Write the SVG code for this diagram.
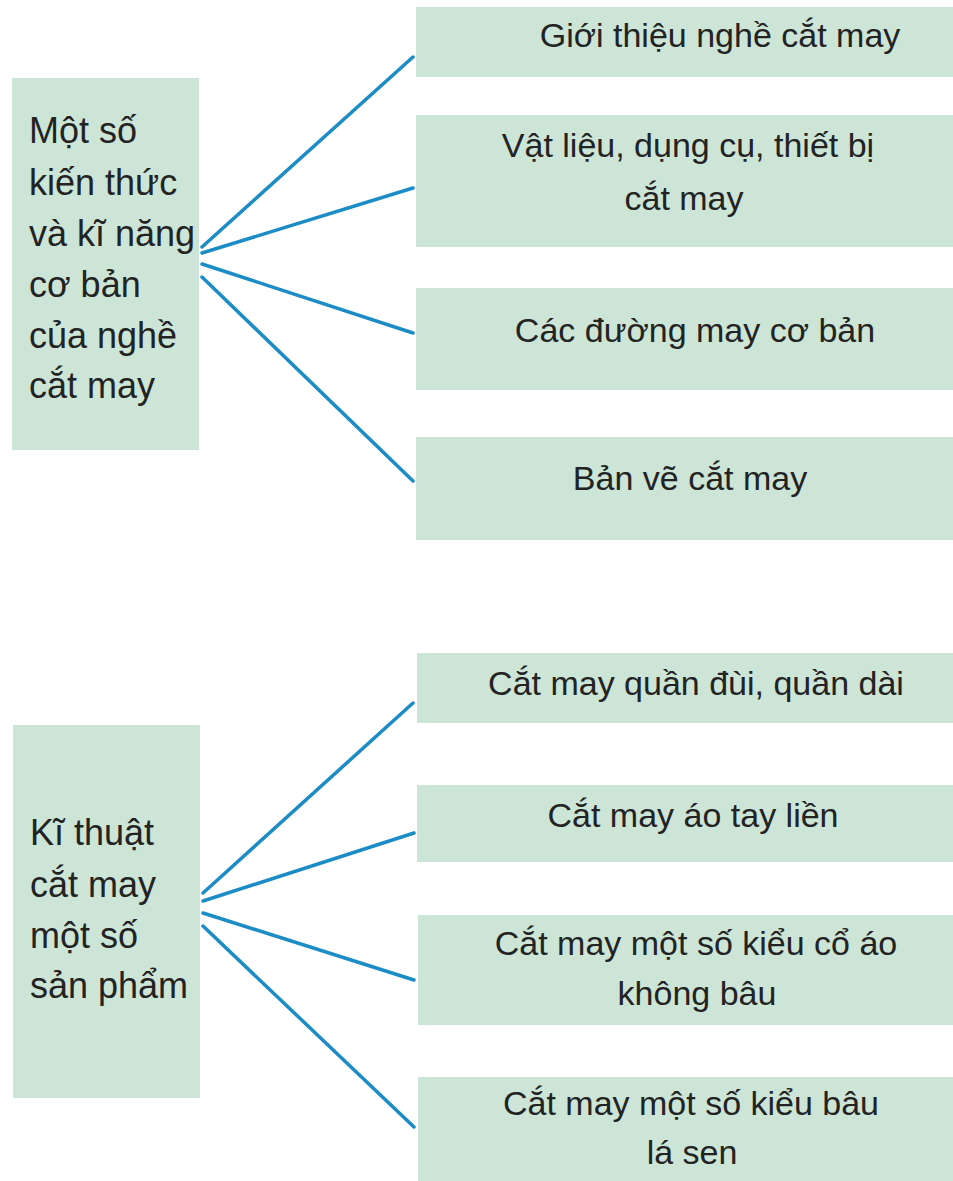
<svg xmlns="http://www.w3.org/2000/svg" width="953" height="1181" viewBox="0 0 953 1181">
<style>
.box{fill:#cce5d6}
.t{font-family:"Liberation Sans",Arial,sans-serif;fill:#232323}
.l{font-size:36px}
.r{font-size:34px;text-anchor:middle}
.c{stroke:#1c8cc6;stroke-width:3.5;fill:none;stroke-linecap:round}
</style>
<rect width="953" height="1181" fill="#ffffff"/>
<g id="connectors">
<line class="c" x1="202" y1="247" x2="413" y2="57"/>
<line class="c" x1="202" y1="253" x2="413" y2="188"/>
<line class="c" x1="202" y1="264" x2="413" y2="333"/>
<line class="c" x1="202" y1="277" x2="413" y2="481"/>
<line class="c" x1="203" y1="893" x2="413" y2="703"/>
<line class="c" x1="203" y1="901" x2="414" y2="833"/>
<line class="c" x1="203" y1="913" x2="414" y2="980"/>
<line class="c" x1="203" y1="926" x2="414" y2="1127"/>
</g>
<g id="n_main1">
<rect class="box" x="12" y="78" width="187" height="372"/>
<text class="t l" x="29"><tspan x="29" y="143">Một số</tspan><tspan x="29" y="195">kiến thức</tspan><tspan x="29" y="246">và kĩ năng</tspan><tspan x="29" y="297">cơ bản</tspan><tspan x="29" y="348">của nghề</tspan><tspan x="29" y="398">cắt may</tspan></text>
</g>
<g id="n_a1">
<rect class="box" x="416" y="7" width="537" height="70"/>
<text class="t r" x="720" y="47">Giới thiệu nghề cắt may</text>
</g>
<g id="n_a2">
<rect class="box" x="416" y="115" width="537" height="132"/>
<text class="t r"><tspan x="688" y="157">Vật liệu, dụng cụ, thiết bị</tspan><tspan x="684" y="210">cắt may</tspan></text>
</g>
<g id="n_a3">
<rect class="box" x="416" y="288" width="537" height="102"/>
<text class="t r" x="695" y="342">Các đường may cơ bản</text>
</g>
<g id="n_a4">
<rect class="box" x="416" y="437" width="537" height="103"/>
<text class="t r" x="690" y="490">Bản vẽ cắt may</text>
</g>
<g id="n_main2">
<rect class="box" x="13" y="725" width="187" height="373"/>
<text class="t l"><tspan x="30" y="845">Kĩ thuật</tspan><tspan x="30" y="897">cắt may</tspan><tspan x="30" y="948">một số</tspan><tspan x="30" y="998">sản phẩm</tspan></text>
</g>
<g id="n_b1">
<rect class="box" x="417" y="653" width="536" height="70"/>
<text class="t r" x="696" y="695">Cắt may quần đùi, quần dài</text>
</g>
<g id="n_b2">
<rect class="box" x="417" y="785" width="536" height="77"/>
<text class="t r" x="693" y="827">Cắt may áo tay liền</text>
</g>
<g id="n_b3">
<rect class="box" x="418" y="915" width="535" height="110"/>
<text class="t r"><tspan x="696" y="955">Cắt may một số kiểu cổ áo</tspan><tspan x="697" y="1005">không bâu</tspan></text>
</g>
<g id="n_b4">
<rect class="box" x="418" y="1077" width="535" height="104"/>
<text class="t r"><tspan x="691" y="1115">Cắt may một số kiểu bâu</tspan><tspan x="692" y="1164">lá sen</tspan></text>
</g>
</svg>
